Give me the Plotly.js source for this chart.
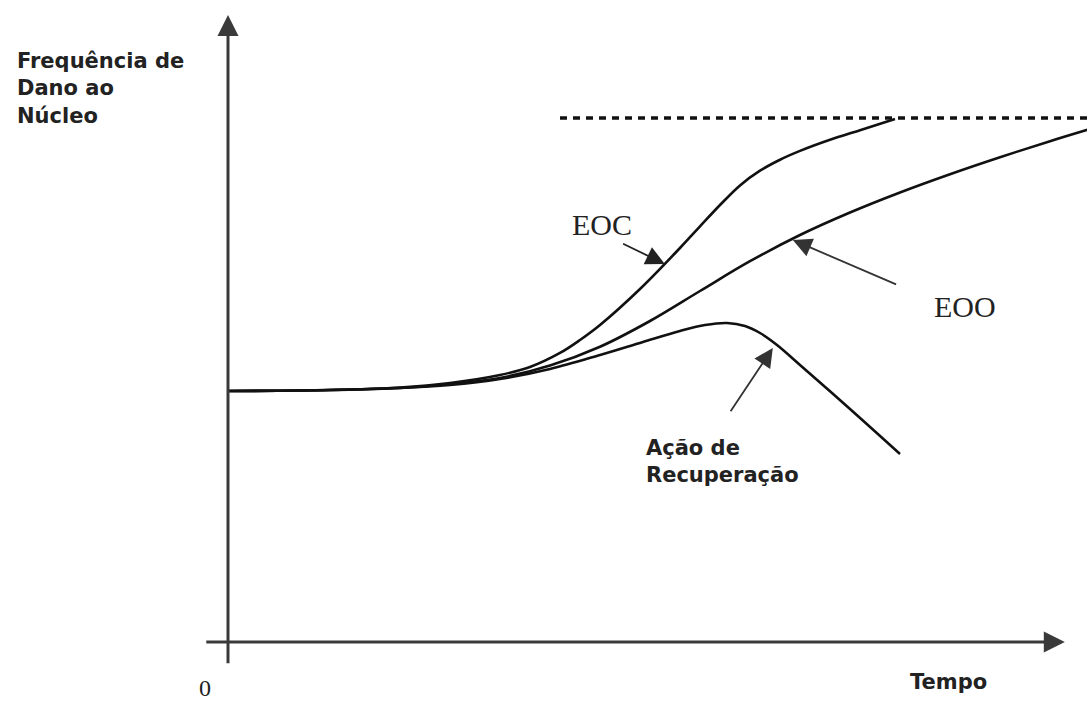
<!DOCTYPE html>
<html>
<head>
<meta charset="utf-8">
<script src="https://cdn.plot.ly/plotly-3.0.1.min.js"></script>
<style>html,body{margin:0;padding:0;background:#fff;}#chart{width:1087px;height:702px;}</style>
</head>
<body>
<div id="chart"></div>
<script>
// ---- Data (conceptual units: time along x, core damage frequency along y) ----
var eocTime = [0, 1.275, 2.15, 2.775, 3.4, 3.775, 4.15, 4.4, 4.65, 5.15, 5.65, 5.9, 6.15, 6.4, 6.65, 6.9, 7.15, 7.525, 7.9, 8.3375];
var eocFreq = [4.183, 4.2, 4.242, 4.317, 4.45, 4.583, 4.817, 5.033, 5.283, 5.883, 6.567, 6.927, 7.283, 7.61, 7.855, 8.038, 8.185, 8.37, 8.53, 8.717];

var eooTime = [0, 1.275, 2.15, 2.775, 3.4, 4.025, 4.65, 5.275, 5.9, 6.525, 7.15, 7.775, 8.4, 9.025, 9.65, 10.275, 10.775];
var eooFreq = [4.183, 4.2, 4.233, 4.3, 4.4, 4.608, 4.921, 5.35, 5.85, 6.346, 6.783, 7.158, 7.492, 7.796, 8.079, 8.346, 8.549];

var recTime = [0, 1.275, 2.15, 2.775, 3.4, 4.025, 4.65, 5.1875, 5.65, 5.9625, 6.2375, 6.4625, 6.65, 6.8625, 7.15, 7.775, 8.4];
var recFreq = [4.183, 4.2, 4.233, 4.283, 4.383, 4.55, 4.783, 5.0, 5.183, 5.283, 5.317, 5.267, 5.15, 4.95, 4.617, 3.883, 3.133];

var limitTime = [4.15, 10.75];
var limitFreq = [8.733, 8.733];

var axisTimeEnd = 10.46, axisTimeStart = -0.29;
var axisFreqEnd = 10.45, axisFreqStart = -0.38;

var yTitle = "Frequência de<br>Dano ao<br>Núcleo";
var xTitle = "Tempo";
var originLabel = "0";
var labelEOC = "EOC", labelEOO = "EOO", labelRec = "Ação de<br>Recuperação";

// ---- Traces ----
var curveLine = {color: '#111', width: 2.6, shape: 'spline', smoothing: 1};
var traces = [
  {x: eocTime, y: eocFreq, mode: 'lines', line: curveLine, hoverinfo: 'skip'},
  {x: eooTime, y: eooFreq, mode: 'lines', line: curveLine, hoverinfo: 'skip'},
  {x: recTime, y: recFreq, mode: 'lines', line: curveLine, hoverinfo: 'skip'},
  {x: limitTime, y: limitFreq, mode: 'lines', line: {color: '#111', width: 3.5, dash: '7px,6px'}, hoverinfo: 'skip'}
];

function arrow(tipX, tipY, tailX, tailY, w, size, color) {
  return {x: tipX, y: tipY, ax: tailX, ay: tailY, xref: 'x', yref: 'y', axref: 'x', ayref: 'y',
          text: '', showarrow: true, arrowhead: 2, arrowwidth: w, arrowsize: size, arrowcolor: color, standoff: 0, startstandoff: 0};
}
function label(x, y, text, fam, size, weight, xanchor, align) {
  return {x: x, y: y, xref: 'x', yref: 'y', text: text, showarrow: false, xanchor: xanchor || 'center', yanchor: 'middle', align: align || 'center',
          font: {family: fam, size: size, color: '#222', weight: weight}};
}
var sans = 'DejaVu Sans, sans-serif', serif = 'Liberation Serif, serif';
var annotations = [
  arrow(0, axisFreqEnd, 0, axisFreqStart, 3, 1.4, '#3a3a3a'),
  arrow(axisTimeEnd, 0, axisTimeStart, 0, 3, 1.4, '#3a3a3a'),
  arrow(5.46, 6.3, 4.92, 6.65, 1.8, 2.1, '#222'),
  arrow(7.06, 6.7, 8.37, 5.95, 1.8, 2.1, '#333'),
  arrow(6.81, 4.9, 6.27, 3.82, 1.8, 2.1, '#333'),
  label(-2.66, 9.22, yTitle, sans, 21, 'bold', 'left', 'left'),
  label(9.0, -0.67, xTitle, sans, 21, 'bold'),
  label(-0.29, -0.77, originLabel, serif, 24, 'normal'),
  label(4.675, 6.966, labelEOC, serif, 30, 'normal'),
  label(9.21, 5.6, labelEOO, serif, 30, 'normal'),
  label(5.2, 3.01, labelRec, sans, 21, 'bold', 'left', 'left')
];

var layout = {
  width: 1087, height: 702,
  margin: {l: 0, r: 0, t: 0, b: 0, pad: 0},
  paper_bgcolor: '#fff', plot_bgcolor: '#fff',
  showlegend: false,
  xaxis: {range: [-2.85, 10.7375], visible: false, showgrid: false, zeroline: false, fixedrange: true},
  yaxis: {range: [-1, 10.7], visible: false, showgrid: false, zeroline: false, fixedrange: true},
  annotations: annotations
};
Plotly.newPlot('chart', traces, layout, {displayModeBar: false, staticPlot: true});
</script>
</body>
</html>
